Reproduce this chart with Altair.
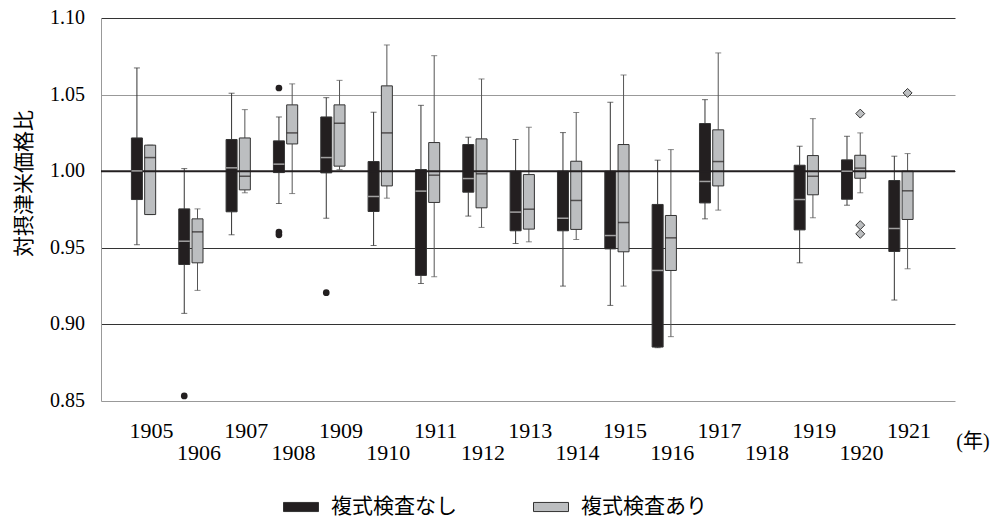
import altair as alt
import pandas as pd

# ---- data ----
groups = ["複式検査なし", "複式検査あり"]
years_no = [1905, 1906, 1907, 1908, 1909, 1910, 1911, 1912, 1913, 1914, 1915, 1916, 1917, 1919, 1920, 1921]
lo_no  = [0.952, 0.9072, 0.9585, 0.9789, 0.9693, 0.9515, 0.9267, 0.9707, 0.9528, 0.925, 0.9124, 0.8848, 0.9689, 0.9402, 0.9778, 0.9159]
q1_no  = [0.9815, 0.9391, 0.9735, 0.9991, 0.9989, 0.9737, 0.932, 0.9863, 0.9611, 0.9611, 0.9493, 0.8852, 0.9793, 0.9617, 0.9817, 0.9476]
med_no = [1.0002, 0.9543, 1.0022, 1.0046, 1.0089, 0.9835, 0.987, 0.9952, 0.9733, 0.9693, 0.958, 0.9352, 0.9933, 0.9815, 1.0, 0.9626]
q3_no  = [1.0217, 0.9754, 1.0207, 1.0198, 1.0354, 1.0063, 1.0011, 1.0174, 1.0, 1.0, 1.0, 0.9783, 1.0311, 1.0039, 1.0074, 0.9939]
hi_no  = [1.0674, 1.0017, 1.0509, 1.0354, 1.048, 1.0385, 1.043, 1.0222, 1.0207, 1.0252, 1.045, 1.0072, 1.0467, 1.0163, 1.0228, 1.0098]

years_yes = [1905, 1906, 1907, 1908, 1909, 1910, 1911, 1912, 1913, 1914, 1915, 1916, 1917, 1919, 1920, 1921]
lo_yes  = [0.9717, 0.9222, 0.9859, 0.9854, 1.001, 0.9824, 0.9311, 0.9633, 0.9539, 0.9554, 0.925, 0.892, 0.9746, 0.9696, 0.9859, 0.9363]
q1_yes  = [0.9717, 0.9402, 0.9878, 1.0178, 1.0033, 0.9904, 0.9796, 0.9761, 0.9622, 0.962, 0.9474, 0.9352, 0.9904, 0.9846, 0.9954, 0.9685]
med_yes = [1.0089, 0.9604, 0.9967, 1.025, 1.0313, 1.025, 0.9974, 0.9983, 0.9752, 0.9809, 0.9665, 0.9565, 1.0063, 0.9967, 1.002, 0.9872]
q3_yes  = [1.017, 0.9689, 1.0217, 1.0433, 1.0433, 1.0557, 1.0187, 1.0211, 0.9978, 1.0065, 1.0174, 0.9711, 1.027, 1.0102, 1.0104, 1.0]
hi_yes  = [1.017, 0.9754, 1.0402, 1.057, 1.0593, 1.0824, 1.0754, 1.0602, 1.0287, 1.0383, 1.0628, 1.0141, 1.0772, 1.0343, 1.025, 1.0115]

out_no_years = [1906, 1908, 1908, 1908, 1909]
out_no_vals = [0.8533, 1.0543, 0.9603, 0.9585, 0.9207]
out_yes_years = [1920, 1920, 1920, 1921]
out_yes_vals = [1.0376, 0.9648, 0.9591, 1.0511]

label_years = list(range(1905, 1922))
y_ticks = [0.85, 0.90, 0.95, 1.00, 1.05, 1.10]
ref_value = [1.00]

# ---- tables ----
box = pd.concat([
    pd.DataFrame({"year": years_no, "grp": groups[0], "lo": lo_no, "q1": q1_no,
                  "med": med_no, "q3": q3_no, "hi": hi_no}),
    pd.DataFrame({"year": years_yes, "grp": groups[1], "lo": lo_yes, "q1": q1_yes,
                  "med": med_yes, "q3": q3_yes, "hi": hi_yes}),
], ignore_index=True)
outl = pd.concat([
    pd.DataFrame({"year": out_no_years, "grp": groups[0], "v": out_no_vals}),
    pd.DataFrame({"year": out_yes_years, "grp": groups[1], "v": out_yes_vals}),
], ignore_index=True)
labels = pd.DataFrame({"year": label_years, "lab": [str(y) for y in label_years]})
ylabels = pd.DataFrame({"v": y_ticks, "lab": [f"{v:.2f}" for v in y_ticks]})
ref = pd.DataFrame({"v": ref_value})

SERIF = "Liberation Serif"
FONT = "'Liberation Serif', 'Noto Sans CJK JP', serif"
CJK = "Noto Sans CJK JP"
BLACK = "#231f20"
GRAY = "#bcbec0"

xscale = alt.Scale(domain=[1904.207, 1922.036], nice=False, zero=False)
yscale = alt.Scale(domain=[0.85, 1.10], nice=False, zero=False)
offset = f"datum.grp == '{groups[0]}' ? datum.year - 0.14 : datum.year + 0.14"
is_no = f"datum.grp == '{groups[0]}'"

base = alt.Chart(box).transform_calculate(xp=offset)
X = alt.X("xp:Q", scale=xscale, axis=None)

yaxis = alt.Axis(
    values=y_ticks, labels=False, title="対摂津米価格比",
    ticks=False, domainColor="#999", domainWidth=1,
    grid=True,
    gridColor={"condition": {"test": "abs(datum.value-1.05)<0.001 || datum.value<0.86", "value": "#999"}, "value": "#333"},
    gridWidth=1,
    titleFont=CJK, titleFontSize=21, titleFontWeight="normal", titleColor="black",
    titleX=-67, titleY=165,
)

wcol = alt.condition(is_no, alt.value("#333"), alt.value("#555"))
whisk_lo = base.mark_rule(strokeWidth=1).encode(
    x=X, y=alt.Y("lo:Q", scale=yscale, axis=yaxis), y2="q1:Q", color=wcol)
whisk_hi = base.mark_rule(strokeWidth=1).encode(
    x=X, y=alt.Y("q3:Q", scale=yscale, axis=yaxis), y2="hi:Q", color=wcol)
cap_lo = base.mark_tick(orient="horizontal", size=6, thickness=1).encode(
    x=X, y=alt.Y("lo:Q", scale=yscale, axis=yaxis), color=wcol)
cap_hi = base.mark_tick(orient="horizontal", size=6, thickness=1).encode(
    x=X, y=alt.Y("hi:Q", scale=yscale, axis=yaxis), color=wcol)

boxes = base.mark_bar(size=11, stroke="#333", strokeWidth=1).encode(
    x=X, y=alt.Y("q1:Q", scale=yscale, axis=yaxis), y2="q3:Q",
    color=alt.Color("grp:N", scale=alt.Scale(domain=groups, range=[BLACK, GRAY]),
                    legend=alt.Legend(
                        title=None, orient="none", direction="horizontal",
                        legendX=182, legendY=471, padding=0,
                        symbolType="M-1,-0.26L1,-0.26L1,0.26L-1,0.26Z",
                        symbolSize=1225, symbolStrokeColor="#333", symbolStrokeWidth=1,
                        symbolOpacity=1, labelOffset=12, columnPadding=74,
                        labelFont=CJK, labelFontSize=21, labelColor="black",
                        labelLimit=400)))

refline = alt.Chart(ref).mark_rule(color=BLACK, strokeWidth=2).encode(
    y=alt.Y("v:Q", scale=yscale, axis=yaxis))

medians = base.mark_tick(orient="horizontal", size=11, thickness=1.5).encode(
    x=X, y=alt.Y("med:Q", scale=yscale, axis=yaxis),
    color=alt.condition(is_no, alt.value("#d8d8d8"), alt.value(BLACK)))

out_x = alt.X("xp:Q", scale=xscale, axis=None)
outs_no = alt.Chart(outl).transform_filter(is_no).transform_calculate(xp=offset).mark_point(
    shape="circle", filled=True, size=45, color=BLACK, opacity=1).encode(
    x=out_x, y=alt.Y("v:Q", scale=yscale, axis=yaxis))
outs_yes = alt.Chart(outl).transform_filter(f"!({is_no})").transform_calculate(xp=offset).mark_point(
    shape="diamond", filled=True, size=80, fill=GRAY, stroke="#333", strokeWidth=1, opacity=1).encode(
    x=out_x, y=alt.Y("v:Q", scale=yscale, axis=yaxis))

ylab = alt.Chart(ylabels).mark_text(
    font=SERIF, fontSize=20, color="black", baseline="middle", align="right").encode(
    x=alt.value(-16), y=alt.Y("v:Q", scale=yscale, axis=yaxis), text="lab:N")

lab_odd = alt.Chart(labels).transform_filter("datum.year % 2 == 1").mark_text(
    font=SERIF, fontSize=22, color="black", baseline="middle", dx=8).encode(
    x=alt.X("year:Q", scale=xscale, axis=None), y=alt.value(413), text="lab:N")
lab_even = alt.Chart(labels).transform_filter("datum.year % 2 == 0").mark_text(
    font=SERIF, fontSize=22, color="black", baseline="middle", dx=8).encode(
    x=alt.X("year:Q", scale=xscale, axis=None), y=alt.value(435), text="lab:N")
unit = alt.Chart(ref).mark_text(
    text="(年)", font=FONT, fontSize=20, color="black", baseline="middle").encode(
    x=alt.value(872), y=alt.value(424))

chart = alt.layer(
    whisk_lo, whisk_hi, cap_lo, cap_hi, boxes, refline, medians,
    outs_no, outs_yes, ylab, lab_odd, lab_even, unit
).properties(
    width=854, height=383,
    padding={"left": 93, "top": 10, "right": 38, "bottom": 123},
    autosize=alt.AutoSizeParams(type="none"),
).configure_view(stroke=None).configure_axis(
    titleFont=CJK
).configure_legend(labelFont=CJK)

chart.save("out.html", embed_options={"renderer": "svg", "actions": False})
